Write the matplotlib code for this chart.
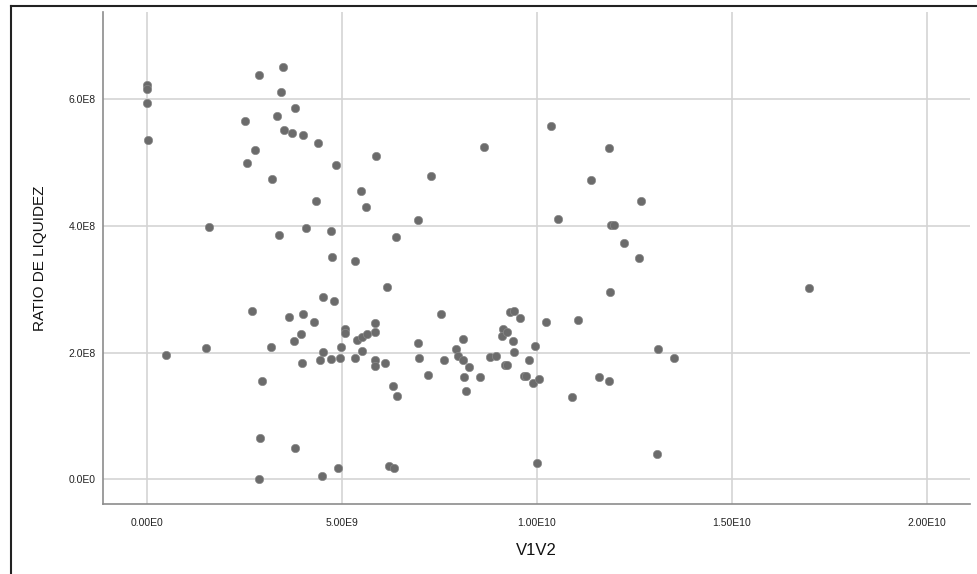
import numpy as np
import matplotlib
matplotlib.use("Agg")
import matplotlib.pyplot as plt
from matplotlib.ticker import FuncFormatter
from matplotlib.lines import Line2D

plt.rcParams['font.family'] = ['Liberation Sans', 'DejaVu Sans']

# V1V2 in units of 1E9, ratio in units of 1E8
v1v2_e9 = [0.00, 0.00, 0.00, 0.03, 1.61, 2.89, 3.49, 3.44, 3.80, 2.52,
           3.35, 3.51, 3.73, 4.00, 4.39, 2.77, 2.56, 4.85, 3.21, 4.35,
           3.38, 4.08, 4.73, 5.89, 8.64, 7.29, 5.49, 5.62, 6.96, 6.39,
           10.36, 11.85, 11.40, 12.68, 10.54, 11.90, 11.98, 12.24, 12.62, 4.75,
           4.52, 4.81, 2.71, 3.65, 4.00, 4.30, 5.08, 5.08, 3.95, 3.78,
           1.51, 3.18, 4.97, 0.49, 4.53, 3.99, 4.45, 4.72, 4.95, 2.96,
           2.91, 3.81, 2.88, 4.50, 4.91, 5.33, 6.17, 5.86, 5.85, 5.40,
           5.51, 5.64, 5.53, 5.34, 5.85, 5.86, 6.12, 6.31, 6.41, 6.96,
           6.99, 7.21, 7.54, 7.62, 8.12, 7.93, 7.99, 8.12, 8.26, 8.14,
           8.54, 8.20, 8.80, 8.96, 9.19, 9.25, 9.13, 9.11, 9.25, 9.40,
           9.42, 9.32, 9.43, 9.58, 9.80, 9.96, 10.24, 9.67, 9.73, 9.90,
           10.05, 6.22, 6.33, 10.01, 11.87, 11.05, 13.10, 13.53, 11.59, 11.85,
           10.90, 13.09, 16.97]
ratio_e8 = [6.22, 6.17, 5.94, 5.36, 3.99, 6.38, 6.51, 6.12, 5.86, 5.66,
            5.74, 5.51, 5.47, 5.44, 5.31, 5.20, 4.99, 4.97, 4.75, 4.40,
            3.86, 3.97, 3.92, 5.11, 5.25, 4.79, 4.56, 4.30, 4.10, 3.82,
            5.58, 5.24, 4.72, 4.39, 4.11, 4.02, 4.02, 3.73, 3.50, 3.51,
            2.88, 2.82, 2.66, 2.57, 2.61, 2.48, 2.37, 2.31, 2.30, 2.19,
            2.07, 2.09, 2.09, 1.97, 2.01, 1.84, 1.88, 1.90, 1.92, 1.56,
            0.65, 0.50, 0.005, 0.06, 0.18, 3.44, 3.04, 2.47, 2.32, 2.20,
            2.24, 2.30, 2.03, 1.91, 1.88, 1.79, 1.83, 1.47, 1.31, 2.15,
            1.91, 1.65, 2.61, 1.88, 2.21, 2.05, 1.94, 1.88, 1.77, 1.61,
            1.61, 1.39, 1.93, 1.94, 1.80, 1.80, 2.37, 2.26, 2.33, 2.19,
            2.01, 2.64, 2.66, 2.54, 1.88, 2.11, 2.48, 1.63, 1.63, 1.52,
            1.59, 0.21, 0.18, 0.25, 2.96, 2.51, 2.06, 1.92, 1.62, 1.55,
            1.30, 0.40, 3.02]

x_ticks = [0, 5e9, 1e10, 1.5e10, 2e10]
y_ticks = [0, 2e8, 4e8, 6e8]

x = np.array(v1v2_e9) * 1e9
y = np.array(ratio_e8) * 1e8


def sci_fmt(decimals):
    def fmt(v, pos):
        if v == 0:
            return "0." + "0" * decimals + "E0"
        exp = int(np.floor(np.log10(abs(v))))
        mant = v / 10 ** exp
        return f"{mant:.{decimals}f}E{exp}"
    return fmt


fig = plt.figure(figsize=(9.77, 5.74), dpi=100)
ax = fig.add_axes([103 / 977, 70 / 574, 867 / 977, 492 / 574])

ax.scatter(x, y, s=36, facecolor='#6b6b6b', edgecolor='#8a8a8a',
           linewidths=0.5, zorder=3)

ax.set_xlim(-1.12e9, 2.111e10)
ax.set_ylim(-0.39e8, 7.38e8)
ax.set_xticks(x_ticks)
ax.set_yticks(y_ticks)
ax.xaxis.set_major_formatter(FuncFormatter(sci_fmt(2)))
ax.yaxis.set_major_formatter(FuncFormatter(sci_fmt(1)))
ax.tick_params(length=0, labelsize=7.5, colors='#222222')
ax.tick_params(axis='x', pad=10)
ax.tick_params(axis='y', pad=5)

ax.grid(True, color='#d4d4d4', linewidth=1.2, zorder=0)
ax.set_axisbelow(True)
for side in ('top', 'right'):
    ax.spines[side].set_visible(False)
for side in ('left', 'bottom'):
    ax.spines[side].set_color('#8c8c8c')
    ax.spines[side].set_linewidth(1.2)

ax.set_xlabel('V1V2', fontsize=12, color='#111111')
ax.set_ylabel('RATIO DE LIQUIDEZ', fontsize=11, color='#111111')
ax.xaxis.set_label_coords(0.5, -0.0955)
ax.xaxis.label.set_va('center')
ax.yaxis.set_label_coords(-0.0727, 0.5)
ax.yaxis.label.set_va('center')

# outer frame (top and left edges visible in the reference)
fig.add_artist(Line2D([10.5 / 977, 1], [1 - 6 / 574, 1 - 6 / 574],
                      transform=fig.transFigure, color='#222222', lw=1.5))
fig.add_artist(Line2D([10.5 / 977, 10.5 / 977], [0, 1 - 6 / 574],
                      transform=fig.transFigure, color='#222222', lw=1.5))

fig.savefig('out.png', dpi=100)
